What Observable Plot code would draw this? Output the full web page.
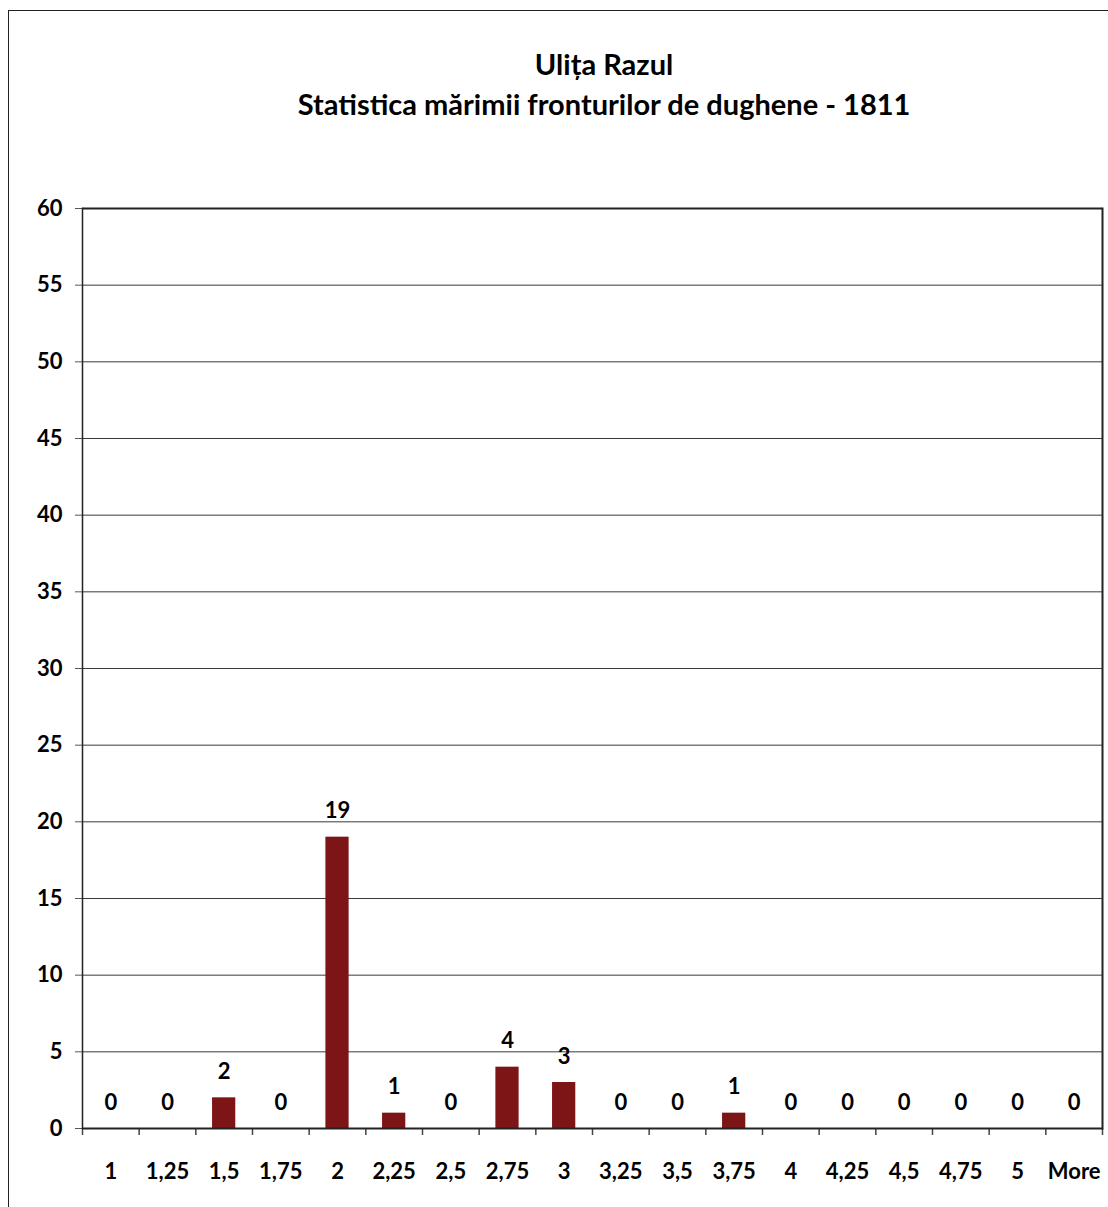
<!DOCTYPE html>
<html>
<head>
<meta charset="utf-8">
<script src="https://cdn.jsdelivr.net/npm/d3@7"></script>
<script src="https://cdn.jsdelivr.net/npm/@observablehq/plot@0.6"></script>
<style>
  html, body { margin: 0; padding: 0; background: #fff; overflow: hidden; }
  #wrap { position: relative; width: 1108px; height: 1207px; font-family: Lato, "Open Sans", sans-serif; }
  #border { position: absolute; left: 8px; top: 10px; width: 1300px; height: 1400px; border: 1.5px solid #222; box-sizing: border-box; }
  #title { position: absolute; left: 0; top: 44px; width: 1208px; text-align: center; font-weight: bold; font-size: 29px; line-height: 40px; color: #000; }
  #chart { position: absolute; left: 0; top: 0; }
</style>
</head>
<body>
<div id="wrap">
  <div id="border"></div>
  <div id="chart"></div>
  <div id="title">Ulița Razul<br>Statistica mărimii fronturilor de dughene - 1811</div>
</div>
<script>
const categories = ["1","1,25","1,5","1,75","2","2,25","2,5","2,75","3","3,25","3,5","3,75","4","4,25","4,5","4,75","5","More"];
const counts = [0,0,2,0,19,1,0,4,3,0,0,1,0,0,0,0,0,0];
const yTicks = [0,5,10,15,20,25,30,35,40,45,50,55,60];

const data = categories.map((c, i) => ({cat: c, n: counts[i]}));

const W = 1108, H = 1207;
const mL = 82, mR = 6, mT = 208, mB = H - 1128;
const pad = 0.59;
const step = (W - mL - mR) / categories.length;
const font = "Lato, 'Open Sans', sans-serif";

const chart = Plot.plot({
  width: W,
  height: H,
  marginLeft: mL,
  marginRight: mR,
  marginTop: mT,
  marginBottom: mB,
  style: {fontFamily: font, fontWeight: "bold", fontSize: "22px", color: "#000", background: "transparent"},
  x: {domain: categories, paddingInner: pad, paddingOuter: pad / 2, align: 0.5, round: false},
  y: {domain: [0, 60]},
  marks: [
    Plot.gridY(yTicks.filter(d => d > 0 && d < 60), {stroke: "#3a3a3a", strokeOpacity: 1, strokeWidth: 1}),
    Plot.barY(data, {x: "cat", y: "n", fill: "#7d1416"}),
    Plot.axisY(yTicks, {tickSize: 7, tickPadding: 13, stroke: "#555", fill: "#000", fontSize: 22, fontWeight: "bold", label: null}),
    Plot.axisX({tickSize: 0, tickPadding: 35, fill: "#000", fontSize: 22, fontWeight: "bold", label: null}),
    Plot.ruleX(categories, {x: d => d, y1: 0, y2: 0, dx: -step / 2, insetBottom: -7, stroke: "#444", strokeWidth: 1.5}),
    Plot.ruleX(["More"], {x: d => d, y1: 0, y2: 0, dx: step / 2, insetBottom: -7, stroke: "#444", strokeWidth: 1.5}),
    Plot.ruleY([0], {stroke: "#222", strokeWidth: 2}),
    Plot.ruleY([60], {stroke: "#222", strokeWidth: 2}),
    Plot.frame({stroke: "#222", strokeWidth: 1.5, anchor: "left"}),
    Plot.frame({stroke: "#222", strokeWidth: 2, anchor: "right"}),
    Plot.text(data, {x: "cat", y: "n", text: d => String(d.n), dy: -26, fill: "#000", fontSize: 22, fontWeight: "bold"})
  ]
});
document.getElementById("chart").appendChild(chart);
</script>
</body>
</html>
